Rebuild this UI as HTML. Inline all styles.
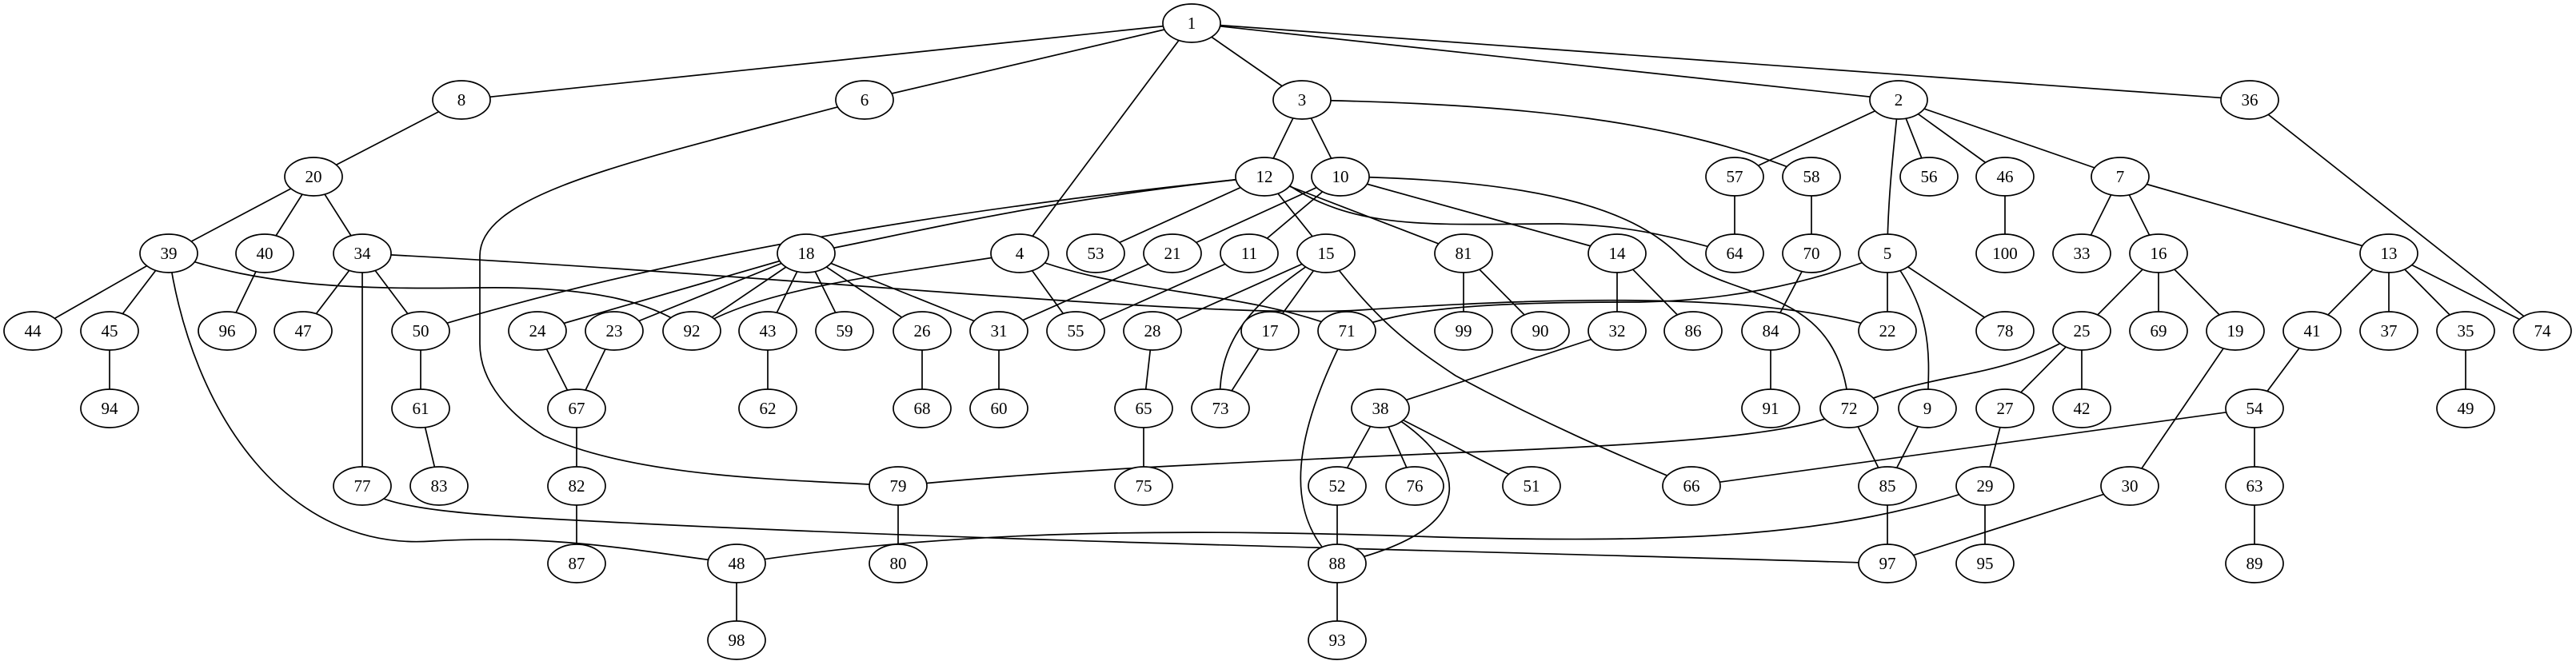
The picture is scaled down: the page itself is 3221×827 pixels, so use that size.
<!DOCTYPE html>
<html><head><meta charset="utf-8"><style>
html,body{margin:0;padding:0;background:#fff;}
svg{display:block;}
text{font-family:"Liberation Serif",serif;font-size:21px;text-anchor:middle;dominant-baseline:central;fill:#000;}
</style></head><body>
<svg width="3221" height="827" viewBox="0 0 3221 827" xmlns="http://www.w3.org/2000/svg">
<g stroke="#000" stroke-width="1.7" fill="none">
<line x1="1490" y1="29" x2="577" y2="125"/>
<line x1="1490" y1="29" x2="1081" y2="125"/>
<line x1="1490" y1="29" x2="1628" y2="125"/>
<line x1="1490" y1="29" x2="1275" y2="317"/>
<line x1="1490" y1="29" x2="2374" y2="125"/>
<line x1="1490" y1="29" x2="2813" y2="125"/>
<line x1="577" y1="125" x2="392" y2="221"/>
<path d="M1081,125 C800,200 600,240 600,320 L600,430 C600,480 640,520 680,545 C800,600 1000,600 1123,608"/>
<line x1="1628" y1="125" x2="1581" y2="221"/>
<line x1="1628" y1="125" x2="1676" y2="221"/>
<path d="M1628,125 C1900,130 2100,150 2265,221"/>
<line x1="2374" y1="125" x2="2169" y2="221"/>
<path d="M2374,125 C2366,200 2360,260 2360,317"/>
<line x1="2374" y1="125" x2="2412" y2="221"/>
<line x1="2374" y1="125" x2="2507" y2="221"/>
<line x1="2374" y1="125" x2="2651" y2="221"/>
<line x1="2813" y1="125" x2="3179" y2="414"/>
<line x1="392" y1="221" x2="211" y2="317"/>
<line x1="392" y1="221" x2="331" y2="317"/>
<line x1="392" y1="221" x2="453" y2="317"/>
<path d="M1581,221 C1300,250 1150,290 1008,317"/>
<line x1="1581" y1="221" x2="1370" y2="317"/>
<line x1="1581" y1="221" x2="1658" y2="317"/>
<line x1="1581" y1="221" x2="1830" y2="317"/>
<path d="M1612,232 C1700,290 1800,280 1950,280 C2050,282 2100,300 2169,317"/>
<path d="M1581,221 C1300,250 900,300 526,414"/>
<line x1="1676" y1="221" x2="1466" y2="317"/>
<line x1="1676" y1="221" x2="1562" y2="317"/>
<line x1="1676" y1="221" x2="2022" y2="317"/>
<path d="M1676,221 C1950,225 2050,270 2100,320 C2160,380 2300,350 2312,511"/>
<line x1="2169" y1="221" x2="2169" y2="317"/>
<line x1="2265" y1="221" x2="2265" y2="317"/>
<line x1="2507" y1="221" x2="2507" y2="317"/>
<line x1="2651" y1="221" x2="2603" y2="317"/>
<line x1="2651" y1="221" x2="2699" y2="317"/>
<line x1="2651" y1="221" x2="2987" y2="317"/>
<line x1="211" y1="317" x2="41" y2="414"/>
<line x1="211" y1="317" x2="137" y2="414"/>
<path d="M211,317 C330,360 450,362 600,360 C750,358 820,380 865,414"/>
<path d="M211,317 C240,520 360,690 540,677 C700,668 800,690 921,705"/>
<line x1="331" y1="317" x2="284" y2="414"/>
<line x1="453" y1="317" x2="379" y2="414"/>
<line x1="453" y1="317" x2="526" y2="414"/>
<line x1="453" y1="317" x2="453" y2="608"/>
<path d="M453,317 C1000,345 1500,400 1700,388 C1900,375 2200,360 2360,414"/>
<line x1="1008" y1="317" x2="672" y2="414"/>
<line x1="1008" y1="317" x2="768" y2="414"/>
<line x1="1008" y1="317" x2="865" y2="414"/>
<line x1="1008" y1="317" x2="960" y2="414"/>
<line x1="1008" y1="317" x2="1056" y2="414"/>
<line x1="1008" y1="317" x2="1153" y2="414"/>
<line x1="1008" y1="317" x2="1249" y2="414"/>
<path d="M1275,317 C1100,345 950,360 865,414"/>
<line x1="1275" y1="317" x2="1345" y2="414"/>
<path d="M1275,317 C1400,370 1550,360 1684,414"/>
<line x1="1466" y1="317" x2="1249" y2="414"/>
<line x1="1562" y1="317" x2="1345" y2="414"/>
<line x1="1658" y1="317" x2="1441" y2="414"/>
<line x1="1658" y1="317" x2="1588" y2="414"/>
<path d="M1658,317 C1560,380 1520,430 1526,511"/>
<path d="M1658,317 C1720,400 1760,430 1820,470 C1950,540 2050,580 2115,608"/>
<line x1="1830" y1="317" x2="1830" y2="414"/>
<line x1="1830" y1="317" x2="1926" y2="414"/>
<line x1="2022" y1="317" x2="2022" y2="414"/>
<line x1="2022" y1="317" x2="2117" y2="414"/>
<line x1="2265" y1="317" x2="2214" y2="414"/>
<path d="M2360,317 C2250,360 2150,376 2050,378 C1850,378 1760,385 1684,414"/>
<line x1="2360" y1="317" x2="2360" y2="414"/>
<path d="M2360,317 C2420,390 2412,450 2410,511"/>
<line x1="2360" y1="317" x2="2507" y2="414"/>
<line x1="2699" y1="317" x2="2603" y2="414"/>
<line x1="2699" y1="317" x2="2699" y2="414"/>
<line x1="2699" y1="317" x2="2795" y2="414"/>
<line x1="2987" y1="317" x2="2891" y2="414"/>
<line x1="2987" y1="317" x2="2987" y2="414"/>
<line x1="2987" y1="317" x2="3083" y2="414"/>
<line x1="2987" y1="317" x2="3179" y2="414"/>
<line x1="137" y1="414" x2="137" y2="511"/>
<line x1="526" y1="414" x2="526" y2="511"/>
<line x1="672" y1="414" x2="721" y2="511"/>
<line x1="768" y1="414" x2="721" y2="511"/>
<line x1="960" y1="414" x2="960" y2="511"/>
<line x1="1153" y1="414" x2="1153" y2="511"/>
<line x1="1249" y1="414" x2="1249" y2="511"/>
<line x1="1441" y1="414" x2="1430" y2="511"/>
<line x1="1588" y1="414" x2="1526" y2="511"/>
<path d="M1684,414 C1620,540 1600,640 1672,705"/>
<line x1="2022" y1="414" x2="1726" y2="511"/>
<line x1="2214" y1="414" x2="2214" y2="511"/>
<path d="M2603,414 C2500,480 2420,460 2312,511"/>
<line x1="2603" y1="414" x2="2507" y2="511"/>
<line x1="2603" y1="414" x2="2603" y2="511"/>
<line x1="2795" y1="414" x2="2663" y2="608"/>
<line x1="2891" y1="414" x2="2819" y2="511"/>
<line x1="3083" y1="414" x2="3083" y2="511"/>
<line x1="526" y1="511" x2="549" y2="608"/>
<line x1="721" y1="511" x2="721" y2="608"/>
<line x1="1430" y1="511" x2="1430" y2="608"/>
<line x1="1726" y1="511" x2="1672" y2="608"/>
<line x1="1726" y1="511" x2="1769" y2="608"/>
<line x1="1726" y1="511" x2="1915" y2="608"/>
<path d="M1726,511 C1830,570 1870,660 1672,705"/>
<path d="M2312,511 C2270,538 2150,552 1900,563 C1500,580 1300,590 1123,608"/>
<line x1="2312" y1="511" x2="2360" y2="608"/>
<line x1="2410" y1="511" x2="2360" y2="608"/>
<line x1="2507" y1="511" x2="2482" y2="608"/>
<line x1="2819" y1="511" x2="2115" y2="608"/>
<line x1="2819" y1="511" x2="2819" y2="608"/>
<path d="M453,608 C480,640 600,645 800,655 C1300,680 1900,690 2360,705"/>
<line x1="721" y1="608" x2="721" y2="705"/>
<line x1="1123" y1="608" x2="1123" y2="705"/>
<line x1="1672" y1="608" x2="1672" y2="705"/>
<path d="M2482,608 C2300,672 2100,680 1800,672 C1500,662 1200,660 921,705"/>
<line x1="2482" y1="608" x2="2482" y2="705"/>
<line x1="2663" y1="608" x2="2360" y2="705"/>
<line x1="2360" y1="608" x2="2360" y2="705"/>
<line x1="2819" y1="608" x2="2819" y2="705"/>
<line x1="921" y1="705" x2="921" y2="801"/>
<line x1="1672" y1="705" x2="1672" y2="801"/>
</g>
<g stroke="#000" stroke-width="1.7" fill="#fff">
<ellipse cx="1490" cy="29" rx="36" ry="24"/>
<ellipse cx="577" cy="125" rx="36" ry="24"/><ellipse cx="1081" cy="125" rx="36" ry="24"/><ellipse cx="1628" cy="125" rx="36" ry="24"/><ellipse cx="2374" cy="125" rx="36" ry="24"/><ellipse cx="2813" cy="125" rx="36" ry="24"/>
<ellipse cx="392" cy="221" rx="36" ry="24"/><ellipse cx="1581" cy="221" rx="36" ry="24"/><ellipse cx="1676" cy="221" rx="36" ry="24"/><ellipse cx="2169" cy="221" rx="36" ry="24"/><ellipse cx="2265" cy="221" rx="36" ry="24"/><ellipse cx="2412" cy="221" rx="36" ry="24"/><ellipse cx="2507" cy="221" rx="36" ry="24"/><ellipse cx="2651" cy="221" rx="36" ry="24"/>
<ellipse cx="211" cy="317" rx="36" ry="24"/><ellipse cx="331" cy="317" rx="36" ry="24"/><ellipse cx="453" cy="317" rx="36" ry="24"/><ellipse cx="1008" cy="317" rx="36" ry="24"/><ellipse cx="1275" cy="317" rx="36" ry="24"/><ellipse cx="1370" cy="317" rx="36" ry="24"/><ellipse cx="1466" cy="317" rx="36" ry="24"/><ellipse cx="1562" cy="317" rx="36" ry="24"/><ellipse cx="1658" cy="317" rx="36" ry="24"/><ellipse cx="1830" cy="317" rx="36" ry="24"/><ellipse cx="2022" cy="317" rx="36" ry="24"/><ellipse cx="2169" cy="317" rx="36" ry="24"/><ellipse cx="2265" cy="317" rx="36" ry="24"/><ellipse cx="2360" cy="317" rx="36" ry="24"/><ellipse cx="2507" cy="317" rx="36" ry="24"/><ellipse cx="2603" cy="317" rx="36" ry="24"/><ellipse cx="2699" cy="317" rx="36" ry="24"/><ellipse cx="2987" cy="317" rx="36" ry="24"/>
<ellipse cx="41" cy="414" rx="36" ry="24"/><ellipse cx="137" cy="414" rx="36" ry="24"/><ellipse cx="284" cy="414" rx="36" ry="24"/><ellipse cx="379" cy="414" rx="36" ry="24"/><ellipse cx="526" cy="414" rx="36" ry="24"/><ellipse cx="672" cy="414" rx="36" ry="24"/><ellipse cx="768" cy="414" rx="36" ry="24"/><ellipse cx="865" cy="414" rx="36" ry="24"/><ellipse cx="960" cy="414" rx="36" ry="24"/><ellipse cx="1056" cy="414" rx="36" ry="24"/><ellipse cx="1153" cy="414" rx="36" ry="24"/><ellipse cx="1249" cy="414" rx="36" ry="24"/><ellipse cx="1345" cy="414" rx="36" ry="24"/><ellipse cx="1441" cy="414" rx="36" ry="24"/><ellipse cx="1588" cy="414" rx="36" ry="24"/><ellipse cx="1684" cy="414" rx="36" ry="24"/><ellipse cx="1830" cy="414" rx="36" ry="24"/><ellipse cx="1926" cy="414" rx="36" ry="24"/><ellipse cx="2022" cy="414" rx="36" ry="24"/><ellipse cx="2117" cy="414" rx="36" ry="24"/><ellipse cx="2214" cy="414" rx="36" ry="24"/><ellipse cx="2360" cy="414" rx="36" ry="24"/><ellipse cx="2507" cy="414" rx="36" ry="24"/><ellipse cx="2603" cy="414" rx="36" ry="24"/><ellipse cx="2699" cy="414" rx="36" ry="24"/><ellipse cx="2795" cy="414" rx="36" ry="24"/><ellipse cx="2891" cy="414" rx="36" ry="24"/><ellipse cx="2987" cy="414" rx="36" ry="24"/><ellipse cx="3083" cy="414" rx="36" ry="24"/><ellipse cx="3179" cy="414" rx="36" ry="24"/>
<ellipse cx="137" cy="511" rx="36" ry="24"/><ellipse cx="526" cy="511" rx="36" ry="24"/><ellipse cx="721" cy="511" rx="36" ry="24"/><ellipse cx="960" cy="511" rx="36" ry="24"/><ellipse cx="1153" cy="511" rx="36" ry="24"/><ellipse cx="1249" cy="511" rx="36" ry="24"/><ellipse cx="1430" cy="511" rx="36" ry="24"/><ellipse cx="1526" cy="511" rx="36" ry="24"/><ellipse cx="1726" cy="511" rx="36" ry="24"/><ellipse cx="2214" cy="511" rx="36" ry="24"/><ellipse cx="2312" cy="511" rx="36" ry="24"/><ellipse cx="2410" cy="511" rx="36" ry="24"/><ellipse cx="2507" cy="511" rx="36" ry="24"/><ellipse cx="2603" cy="511" rx="36" ry="24"/><ellipse cx="2819" cy="511" rx="36" ry="24"/><ellipse cx="3083" cy="511" rx="36" ry="24"/>
<ellipse cx="453" cy="608" rx="36" ry="24"/><ellipse cx="549" cy="608" rx="36" ry="24"/><ellipse cx="721" cy="608" rx="36" ry="24"/><ellipse cx="1123" cy="608" rx="36" ry="24"/><ellipse cx="1430" cy="608" rx="36" ry="24"/><ellipse cx="1672" cy="608" rx="36" ry="24"/><ellipse cx="1769" cy="608" rx="36" ry="24"/><ellipse cx="1915" cy="608" rx="36" ry="24"/><ellipse cx="2115" cy="608" rx="36" ry="24"/><ellipse cx="2360" cy="608" rx="36" ry="24"/><ellipse cx="2482" cy="608" rx="36" ry="24"/><ellipse cx="2663" cy="608" rx="36" ry="24"/><ellipse cx="2819" cy="608" rx="36" ry="24"/>
<ellipse cx="721" cy="705" rx="36" ry="24"/><ellipse cx="921" cy="705" rx="36" ry="24"/><ellipse cx="1123" cy="705" rx="36" ry="24"/><ellipse cx="1672" cy="705" rx="36" ry="24"/><ellipse cx="2360" cy="705" rx="36" ry="24"/><ellipse cx="2482" cy="705" rx="36" ry="24"/><ellipse cx="2819" cy="705" rx="36" ry="24"/>
<ellipse cx="921" cy="801" rx="36" ry="24"/><ellipse cx="1672" cy="801" rx="36" ry="24"/>
</g>
<g>
<text x="1490" y="29">1</text>
<text x="577" y="125">8</text><text x="1081" y="125">6</text><text x="1628" y="125">3</text><text x="2374" y="125">2</text><text x="2813" y="125">36</text>
<text x="392" y="221">20</text><text x="1581" y="221">12</text><text x="1676" y="221">10</text><text x="2169" y="221">57</text><text x="2265" y="221">58</text><text x="2412" y="221">56</text><text x="2507" y="221">46</text><text x="2651" y="221">7</text>
<text x="211" y="317">39</text><text x="331" y="317">40</text><text x="453" y="317">34</text><text x="1008" y="317">18</text><text x="1275" y="317">4</text><text x="1370" y="317">53</text><text x="1466" y="317">21</text><text x="1562" y="317">11</text><text x="1658" y="317">15</text><text x="1830" y="317">81</text><text x="2022" y="317">14</text><text x="2169" y="317">64</text><text x="2265" y="317">70</text><text x="2360" y="317">5</text><text x="2507" y="317">100</text><text x="2603" y="317">33</text><text x="2699" y="317">16</text><text x="2987" y="317">13</text>
<text x="41" y="414">44</text><text x="137" y="414">45</text><text x="284" y="414">96</text><text x="379" y="414">47</text><text x="526" y="414">50</text><text x="672" y="414">24</text><text x="768" y="414">23</text><text x="865" y="414">92</text><text x="960" y="414">43</text><text x="1056" y="414">59</text><text x="1153" y="414">26</text><text x="1249" y="414">31</text><text x="1345" y="414">55</text><text x="1441" y="414">28</text><text x="1588" y="414">17</text><text x="1684" y="414">71</text><text x="1830" y="414">99</text><text x="1926" y="414">90</text><text x="2022" y="414">32</text><text x="2117" y="414">86</text><text x="2214" y="414">84</text><text x="2360" y="414">22</text><text x="2507" y="414">78</text><text x="2603" y="414">25</text><text x="2699" y="414">69</text><text x="2795" y="414">19</text><text x="2891" y="414">41</text><text x="2987" y="414">37</text><text x="3083" y="414">35</text><text x="3179" y="414">74</text>
<text x="137" y="511">94</text><text x="526" y="511">61</text><text x="721" y="511">67</text><text x="960" y="511">62</text><text x="1153" y="511">68</text><text x="1249" y="511">60</text><text x="1430" y="511">65</text><text x="1526" y="511">73</text><text x="1726" y="511">38</text><text x="2214" y="511">91</text><text x="2312" y="511">72</text><text x="2410" y="511">9</text><text x="2507" y="511">27</text><text x="2603" y="511">42</text><text x="2819" y="511">54</text><text x="3083" y="511">49</text>
<text x="453" y="608">77</text><text x="549" y="608">83</text><text x="721" y="608">82</text><text x="1123" y="608">79</text><text x="1430" y="608">75</text><text x="1672" y="608">52</text><text x="1769" y="608">76</text><text x="1915" y="608">51</text><text x="2115" y="608">66</text><text x="2360" y="608">85</text><text x="2482" y="608">29</text><text x="2663" y="608">30</text><text x="2819" y="608">63</text>
<text x="721" y="705">87</text><text x="921" y="705">48</text><text x="1123" y="705">80</text><text x="1672" y="705">88</text><text x="2360" y="705">97</text><text x="2482" y="705">95</text><text x="2819" y="705">89</text>
<text x="921" y="801">98</text><text x="1672" y="801">93</text>
</g>
</svg>
</body></html>
